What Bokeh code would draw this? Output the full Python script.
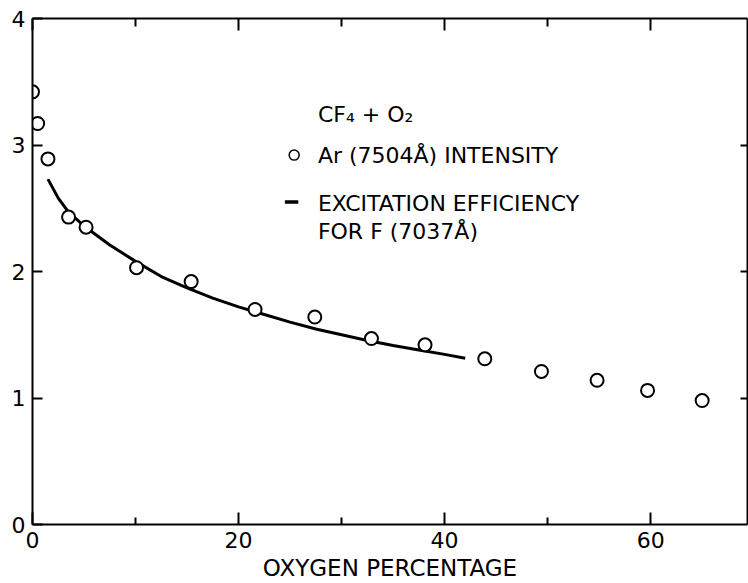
from bokeh.plotting import figure
from bokeh.models import LinearAxis, FixedTicker, Range1d
from bokeh.core.properties import value
from bokeh.embed import file_html
from bokeh.resources import INLINE

# Ar (7504 A) intensity (open circles)
ar_x = [0.0, 0.5, 1.5, 3.5, 5.2, 10.1, 15.4, 21.6, 27.4, 32.9, 38.1, 43.9, 49.4, 54.8, 59.7, 65.0]
ar_y = [3.42, 3.17, 2.89, 2.43, 2.35, 2.03, 1.92, 1.70, 1.64, 1.47, 1.42, 1.31, 1.21, 1.14, 1.06, 0.98]

# Excitation efficiency for F (7037 A) (solid curve)
ef_x = [1.5, 2.5, 3.5, 5.0, 7.5, 10.0, 12.5, 15.0, 17.5, 20.0, 22.5, 25.0, 27.5, 30.0, 32.5, 35.0, 37.5, 40.0, 42.0]
ef_y = [2.73, 2.58, 2.47, 2.36, 2.21, 2.08, 1.96, 1.87, 1.79, 1.72, 1.66, 1.60, 1.545, 1.50, 1.455, 1.415, 1.38, 1.345, 1.315]

x_major = [0, 20, 40, 60]
x_minor = [10, 30, 50]
y_major = [0, 1, 2, 3, 4]
y_right = [1, 2, 3]

FONT = "DejaVu Sans"

p = figure(width=748, height=583, output_backend="svg", toolbar_location=None,
           x_range=Range1d(0, 69.4), y_range=Range1d(0, 4),
           x_axis_location=None, y_axis_location=None,
           min_border_left=32, min_border_right=1, min_border_top=18, min_border_bottom=57)
p.grid.visible = False
p.outline_line_color = None
p.background_fill_color = "white"
p.border_fill_color = "white"

def style(ax, labels=True):
    ax.axis_line_width = 2
    ax.axis_line_color = "black"
    ax.major_tick_line_width = 2
    ax.minor_tick_line_width = 2
    ax.major_tick_line_color = "black"
    ax.minor_tick_line_color = "black"
    ax.major_tick_out = 0
    ax.minor_tick_out = 0
    if labels:
        ax.major_label_text_font = FONT
        ax.major_label_text_font_size = "22px"
        ax.major_label_text_color = "black"
    else:
        ax.major_label_text_font_size = "0px"
        ax.major_label_text_color = None

bottom = LinearAxis(ticker=FixedTicker(ticks=x_major, minor_ticks=x_minor))
style(bottom)
bottom.major_tick_in = 12
bottom.minor_tick_in = 7
bottom.major_label_standoff = 7
bottom.axis_label = "OXYGEN PERCENTAGE"
bottom.axis_label_text_font = FONT
bottom.axis_label_text_font_style = "normal"
bottom.axis_label_text_font_size = "23px"
bottom.axis_label_text_color = "black"
bottom.axis_label_standoff = 4
p.add_layout(bottom, "below")

top = LinearAxis(ticker=FixedTicker(ticks=x_major, minor_ticks=x_minor))
style(top, labels=False)
top.major_tick_in = 12
top.minor_tick_in = 8
p.add_layout(top, "above")

left = LinearAxis(ticker=FixedTicker(ticks=y_major, minor_ticks=[]))
style(left)
left.major_tick_in = 10
left.major_label_standoff = 7
p.add_layout(left, "left")

right = LinearAxis(ticker=FixedTicker(ticks=y_right, minor_ticks=[]))
style(right, labels=False)
right.major_tick_in = 7
p.add_layout(right, "right")

# curve
p.line(ef_x, ef_y, line_color="black", line_width=3)

# points
p.scatter(ar_x, ar_y, marker="circle", size=13, fill_color="white",
          line_color="black", line_width=2)

# legend block (manual, as in the original figure)
leg_x = 27.7
kw = dict(text_font=value(FONT), text_font_size="22px", text_baseline="middle",
          text_align="left", text_color="black")
p.text(x=[leg_x], y=[3.24], text=["CF\u2084 + O\u2082"], **kw)
p.text(x=[leg_x], y=[2.92], text=["Ar (7504\u00c5) INTENSITY"], **kw)
p.text(x=[leg_x], y=[2.54], text=["EXCITATION  EFFICIENCY"], **kw)
p.text(x=[leg_x], y=[2.32], text=["FOR  F (7037\u00c5)"], **kw)
p.scatter(x=[25.4], y=[2.92], marker="circle", size=10, fill_color="white",
          line_color="black", line_width=1.5)
p.line(x=[24.5, 25.8], y=[2.55, 2.55], line_color="black", line_width=3.5)

open("out.html", "w").write(file_html(p, INLINE))
